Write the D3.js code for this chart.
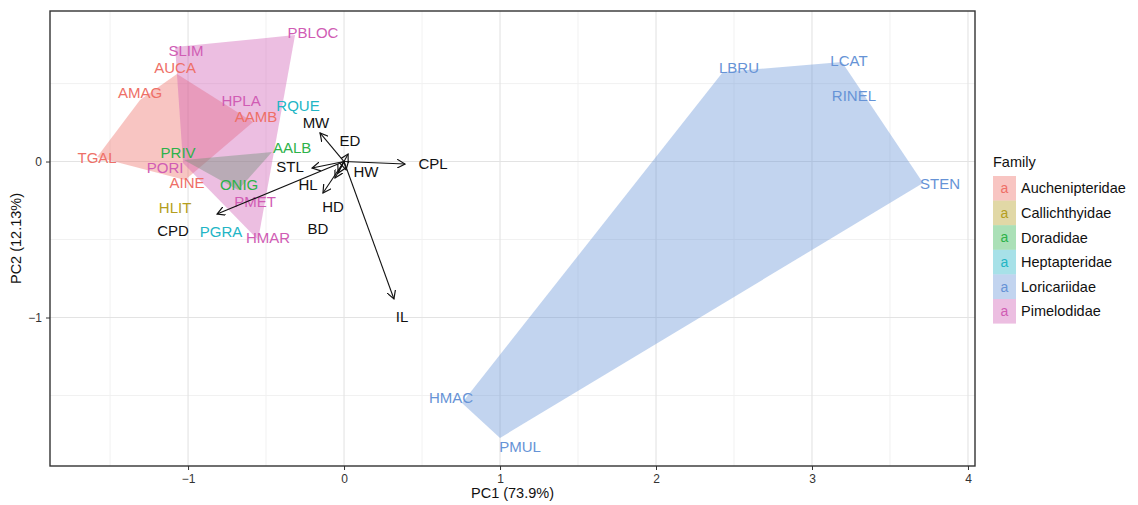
<!DOCTYPE html>
<html>
<head>
<meta charset="utf-8">
<script src="https://cdn.jsdelivr.net/npm/d3@7"></script>
<style>
  body { margin: 0; background: #fff; }
  svg { font-family: "Liberation Sans", Arial, sans-serif; }
</style>
</head>
<body>
<div id="chart"></div>
<script>
// species scores
var species = ["TGAL","AMAG","AUCA","AAMB","AINE",
               "SLIM","PBLOC","HPLA","PORI","PMET","HMAR",
               "PRIV","AALB","ONIG",
               "HLIT","RQUE","PGRA",
               "LBRU","LCAT","RINEL","STEN","HMAC","PMUL"];
var speciesFamily = ["Auchenipteridae","Auchenipteridae","Auchenipteridae","Auchenipteridae","Auchenipteridae",
                     "Pimelodidae","Pimelodidae","Pimelodidae","Pimelodidae","Pimelodidae","Pimelodidae",
                     "Doradidae","Doradidae","Doradidae",
                     "Callichthyidae","Heptapteridae","Heptapteridae",
                     "Loricariidae","Loricariidae","Loricariidae","Loricariidae","Loricariidae","Loricariidae"];
var pc1 = [-1.583,-1.308,-1.071,-0.583,-1.019,
           -1.083,-0.314,-0.660,-1.032,-0.571,-0.551,
           -1.026,-0.462,-0.679,
           -1.083,-0.295,-0.788,
           2.429,3.192,3.244,3.712,0.756,1.000];
var pc2 = [0.029,0.394,0.561,0.253,-0.119,
           0.734,0.811,0.388,-0.010,-0.260,-0.503,
           0.010,0.061,-0.183,
           -0.298,0.356,-0.452,
           0.574,0.638,0.420,-0.138,-1.548,-1.772];
// where the (repelled) species labels sit
var labelPc1 = [-1.583,-1.308,-1.083,-0.564,-1.006,
                -1.013,-0.199,-0.660,-1.147,-0.571,-0.487,
                -1.064,-0.333,-0.673,
                -1.083,-0.295,-0.788,
                2.532,3.237,3.269,3.821,0.686,1.128];
var labelPc2 = [0.022,0.439,0.599,0.285,-0.138,
                0.708,0.824,0.388,-0.042,-0.260,-0.490,
                0.054,0.087,-0.151,
                -0.298,0.356,-0.452,
                0.599,0.644,0.420,-0.144,-1.516,-1.830];

// variable loadings
var variables = ["CPL","MW","STL","HD","HL","BD","CPD","IL","ED","HW"];
var loadPc1 = [0.391,-0.154,-0.205,-0.135,-0.058,-0.038,-0.814,0.320,0.026,0.013];
var loadPc2 = [-0.016,0.183,-0.042,-0.202,-0.106,-0.074,-0.337,-0.881,0.048,-0.054];
var varLabelPc1 = [0.571,-0.180,-0.346,-0.070,-0.231,-0.167,-1.096,0.372,0.038,0.141];
var varLabelPc2 = [-0.016,0.247,-0.035,-0.292,-0.151,-0.433,-0.446,-0.997,0.131,-0.067];

var families = ["Auchenipteridae","Callichthyidae","Doradidae","Heptapteridae","Loricariidae","Pimelodidae"];
var familyColors = ["#EE6F67","#B49E20","#2DB24A","#22B5C5","#6693D6","#D05CB4"];

var xTicks = [-1, 0, 1, 2, 3, 4];
var yTicks = [0, -1];

var width = 1138, height = 505;
var panel = {left: 50, right: 975, top: 11, bottom: 466};

var x = d3.scaleLinear().domain([-1.885, 4.045]).range([panel.left, panel.right]);
var y = d3.scaleLinear().domain([-1.952, 0.965]).range([panel.bottom, panel.top]);
var color = d3.scaleOrdinal().domain(families).range(familyColors);

var svg = d3.select("#chart").append("svg")
    .attr("width", width)
    .attr("height", height);

svg.append("defs").append("marker")
    .attr("id", "arrow")
    .attr("viewBox", "0 0 10 10")
    .attr("refX", 9).attr("refY", 5)
    .attr("markerWidth", 9).attr("markerHeight", 9)
    .attr("markerUnits", "userSpaceOnUse")
    .attr("orient", "auto")
  .append("path")
    .attr("d", "M0,0 L9,5 L0,10")
    .attr("fill", "none")
    .attr("stroke", "#111")
    .attr("stroke-width", 1.3);

// grid
var minorX = d3.range(-1.5, 4.01, 1), minorY = [0.5, -0.5, -1.5];
var grid = svg.append("g");
grid.selectAll(".mx").data(minorX).enter().append("line")
    .attr("x1", d => x(d)).attr("x2", d => x(d))
    .attr("y1", panel.top).attr("y2", panel.bottom)
    .attr("stroke", "#efefef").attr("stroke-width", 0.9);
grid.selectAll(".my").data(minorY).enter().append("line")
    .attr("y1", d => y(d)).attr("y2", d => y(d))
    .attr("x1", panel.left).attr("x2", panel.right)
    .attr("stroke", "#efefef").attr("stroke-width", 0.9);
grid.selectAll(".gx").data(xTicks).enter().append("line")
    .attr("x1", d => x(d)).attr("x2", d => x(d))
    .attr("y1", panel.top).attr("y2", panel.bottom)
    .attr("stroke", "#e3e3e3").attr("stroke-width", 1.1);
grid.selectAll(".gy").data(yTicks).enter().append("line")
    .attr("y1", d => y(d)).attr("y2", d => y(d))
    .attr("x1", panel.left).attr("x2", panel.right)
    .attr("stroke", "#e3e3e3").attr("stroke-width", 1.1);

// hulls per family
var pts = species.map(function(s, i) {
  return {name: s, family: speciesFamily[i], pc1: pc1[i], pc2: pc2[i], lx: labelPc1[i], ly: labelPc2[i]};
});
var hulls = families.map(function(f) {
  var p = pts.filter(d => d.family === f).map(d => [x(d.pc1), y(d.pc2)]);
  return {family: f, hull: p.length >= 3 ? d3.polygonHull(p) : null};
}).filter(d => d.hull);

svg.append("g").selectAll("path").data(hulls).enter().append("path")
    .attr("d", d => "M" + d.hull.join("L") + "Z")
    .attr("fill", d => color(d.family))
    .attr("fill-opacity", 0.4);

// species labels
svg.append("g").selectAll("text").data(pts).enter().append("text")
    .attr("x", d => x(d.lx))
    .attr("y", d => y(d.ly))
    .attr("dy", "0.35em")
    .attr("text-anchor", "middle")
    .attr("font-size", 15)
    .attr("fill", d => color(d.family))
    .text(d => d.name);

// loading arrows
var vars = variables.map(function(v, i) {
  return {name: v, x: loadPc1[i], y: loadPc2[i], lx: varLabelPc1[i], ly: varLabelPc2[i]};
});
svg.append("g").selectAll("line").data(vars).enter().append("line")
    .attr("x1", x(0)).attr("y1", y(0))
    .attr("x2", d => x(d.x)).attr("y2", d => y(d.y))
    .attr("stroke", "#111")
    .attr("stroke-width", 1.1)
    .attr("marker-end", "url(#arrow)");
svg.append("g").selectAll("text").data(vars).enter().append("text")
    .attr("x", d => x(d.lx))
    .attr("y", d => y(d.ly))
    .attr("dy", "0.35em")
    .attr("text-anchor", "middle")
    .attr("font-size", 15)
    .attr("fill", "#111")
    .text(d => d.name);

// panel border
svg.append("rect")
    .attr("x", panel.left).attr("y", panel.top)
    .attr("width", panel.right - panel.left)
    .attr("height", panel.bottom - panel.top)
    .attr("fill", "none")
    .attr("stroke", "#333")
    .attr("stroke-width", 1.4);

// axes
var fmt = d => d < 0 ? "\u2212" + Math.abs(d) : String(d);
var xAxis = svg.append("g")
    .attr("transform", "translate(0," + panel.bottom + ")")
    .call(d3.axisBottom(x).tickValues(xTicks).tickSize(4).tickPadding(4).tickFormat(fmt));
var yAxis = svg.append("g")
    .attr("transform", "translate(" + panel.left + ",0)")
    .call(d3.axisLeft(y).tickValues(yTicks).tickSize(4).tickPadding(4).tickFormat(fmt));
[xAxis, yAxis].forEach(function(a) {
  a.select(".domain").remove();
  a.selectAll(".tick line").attr("stroke", "#333");
  a.selectAll(".tick text").attr("fill", "#333").attr("font-size", 12)
    .attr("font-family", "Liberation Sans, Arial, sans-serif");
});

svg.append("text")
    .attr("x", (panel.left + panel.right) / 2)
    .attr("y", 498)
    .attr("text-anchor", "middle")
    .attr("font-size", 14.5)
    .attr("fill", "#111")
    .text("PC1 (73.9%)");
svg.append("text")
    .attr("transform", "translate(21," + (panel.top + panel.bottom) / 2 + ") rotate(-90)")
    .attr("text-anchor", "middle")
    .attr("font-size", 14.5)
    .attr("fill", "#111")
    .text("PC2 (12.13%)");

// legend
var legend = svg.append("g").attr("transform", "translate(993,0)");
legend.append("text")
    .attr("x", 0).attr("y", 167)
    .attr("font-size", 14.5)
    .attr("fill", "#111")
    .text("Family");
var item = legend.selectAll(".item").data(families).enter().append("g")
    .attr("transform", (d, i) => "translate(0," + (176 + i * 24.6) + ")");
item.append("rect")
    .attr("width", 23).attr("height", 24.6)
    .attr("fill", d => color(d)).attr("fill-opacity", 0.4);
item.append("text")
    .attr("x", 11.5).attr("y", 12.3).attr("dy", "0.35em")
    .attr("text-anchor", "middle")
    .attr("font-size", 14)
    .attr("fill", d => color(d))
    .text("a");
item.append("text")
    .attr("x", 28).attr("y", 12.3).attr("dy", "0.35em")
    .attr("font-size", 14.5)
    .attr("fill", "#111")
    .text(d => d);
</script>
</body>
</html>
